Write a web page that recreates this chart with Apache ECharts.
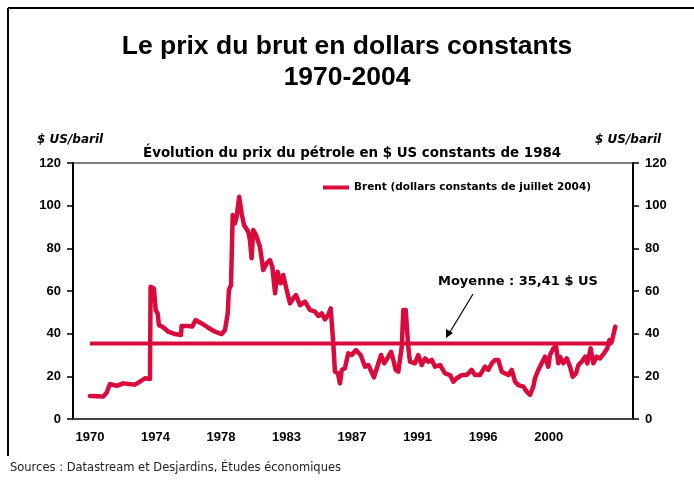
<!DOCTYPE html>
<html>
<head>
<meta charset="utf-8">
<title>Le prix du brut en dollars constants</title>
<script src="https://cdn.jsdelivr.net/npm/echarts@6/dist/echarts.min.js"></script>
<style>
  html, body { margin: 0; padding: 0; background: #fff; }
  #chart { width: 694px; height: 483px; }
</style>
</head>
<body>
<div id="chart"></div>
<script>
// Brent, $ US constants, x = année décimale
const brentX = [
  1970.00, 1970.88, 1971.10, 1971.32, 1971.77, 1972.20, 1972.98, 1973.31, 1973.64, 1973.97,
  1974.01, 1974.23, 1974.35, 1974.48, 1974.56, 1974.85, 1975.18, 1975.62, 1976.02, 1976.06,
  1976.50, 1976.77, 1976.99, 1977.39, 1977.82, 1978.27, 1978.71, 1978.93, 1979.11, 1979.19,
  1979.33, 1979.44, 1979.59, 1979.70, 1979.87, 1980.03, 1980.19, 1980.47, 1980.58, 1980.69,
  1980.80, 1980.98, 1981.24, 1981.46, 1981.69, 1981.90, 1982.06, 1982.24, 1982.41, 1982.61,
  1982.78, 1983.01, 1983.23, 1983.45, 1983.62, 1983.89, 1984.22, 1984.55, 1984.88, 1985.10,
  1985.32, 1985.54, 1985.76, 1985.92, 1986.09, 1986.20, 1986.40, 1986.53, 1986.65, 1986.86,
  1987.08, 1987.31, 1987.59, 1987.90, 1988.19, 1988.41, 1988.78, 1989.07, 1989.25, 1989.46,
  1989.73, 1989.91, 1990.06, 1990.22, 1990.39, 1990.62, 1990.72, 1990.88, 1991.05, 1991.16,
  1991.49, 1991.71, 1991.94, 1992.16, 1992.37, 1992.60, 1992.82, 1993.15, 1993.48, 1993.81,
  1994.03, 1994.25, 1994.58, 1994.91, 1995.24, 1995.46, 1995.79, 1996.12, 1996.34, 1996.57,
  1996.79, 1997.00, 1997.23, 1997.34, 1997.67, 1997.89, 1998.11, 1998.33, 1998.66, 1998.88,
  1999.10, 1999.32, 1999.43, 1999.65, 1999.87, 2000.09, 2000.31, 2000.42, 2000.64, 2000.82,
  2000.97, 2001.08, 2001.30, 2001.53, 2001.75, 2001.92, 2002.14, 2002.30, 2002.52, 2002.74,
  2002.89, 2003.11, 2003.29, 2003.51, 2003.73, 2003.99, 2004.21, 2004.35, 2004.50, 2004.61,
  2004.74
];
const brentY = [
  10.8, 10.5, 12.3, 16.4, 15.5, 16.7, 16.1, 17.5, 19.1, 18.8,
  62.0, 61.2, 51.0, 49.5, 44.0, 43.0, 40.9, 39.8, 39.4, 43.6,
  43.6, 43.4, 46.4, 44.8, 42.8, 40.9, 39.8, 41.7, 49.5, 60.5,
  62.8, 95.6, 91.7, 94.8, 104.2, 96.4, 90.9, 87.8, 83.9, 75.3,
  88.6, 86.3, 80.8, 69.8, 73.0, 74.5, 71.4, 58.9, 69.0, 63.6,
  67.5, 60.5, 54.2, 56.6, 58.1, 53.4, 55.0, 51.1, 50.3, 48.3,
  49.5, 46.7, 48.8, 51.9, 35.5, 22.2, 21.4, 16.7, 23.0, 23.8,
  30.8, 30.0, 32.3, 30.0, 24.5, 25.3, 19.5, 26.0, 30.0, 26.1,
  29.2, 31.5, 27.7, 23.0, 22.2, 33.9, 51.1, 51.1, 33.9, 26.9,
  26.1, 30.0, 25.3, 28.4, 26.9, 27.7, 24.5, 25.3, 21.4, 20.6,
  17.5, 19.1, 20.6, 20.6, 23.0, 20.6, 20.6, 24.5, 23.0, 26.1,
  27.7, 27.7, 22.2, 21.4, 20.6, 23.0, 17.5, 15.9, 15.2, 12.8,
  11.3, 15.2, 19.1, 23.0, 26.1, 29.2, 24.5, 30.0, 33.1, 34.2,
  26.1, 29.2, 26.1, 28.4, 24.5, 19.8, 21.4, 25.3, 26.9, 29.2,
  26.1, 33.1, 26.1, 29.2, 28.4, 30.8, 33.1, 37.0, 36.2, 39.4,
  43.3
];
const moyenne = 35.41;
const moyenneX = [1970.00, 2004.55];

// étiquettes de l'axe horizontal (une tous les 52 mois)
const tickYears = [1970, 1974.333, 1978.667, 1983, 1987.333, 1991.667, 1996, 2000.333];
const tickLabels = ['1970', '1974', '1978', '1983', '1987', '1991', '1996', '2000'];

const FONT = '"Liberation Sans", Arial, Helvetica, sans-serif';
const WIDE = '"DejaVu Sans", Verdana, sans-serif';
const RED = '#DA0A3C';

const chart = echarts.init(document.getElementById('chart'), null, { renderer: 'canvas' });

const yAxisBase = {
  type: 'value',
  min: 0,
  max: 120,
  interval: 20,
  splitLine: { show: false },
  axisLine: { show: true, lineStyle: { color: '#000', width: 2 } },
  axisTick: { show: true, length: 6, lineStyle: { color: '#000', width: 1.5 } },
  axisLabel: { color: '#000', fontFamily: FONT, fontWeight: 'bold', fontSize: 13, margin: 12 }
};

const option = {
  animation: false,
  backgroundColor: '#fff',
  textStyle: { fontFamily: FONT },
  grid: {
    left: 73, right: 61, top: 163, bottom: 64,
    show: true, borderColor: '#555', borderWidth: 1.5, backgroundColor: 'transparent'
  },
  legend: {
    data: ['Brent (dollars constants de juillet 2004)'],
    left: 323,
    top: 182,
    padding: 0,
    icon: 'rect',
    itemWidth: 26,
    itemHeight: 4,
    itemGap: 8,
    textStyle: { color: '#000', fontFamily: WIDE, fontWeight: 'bold', fontSize: 10.5 }
  },
  xAxis: {
    type: 'value',
    min: 1968.88,
    max: 2005.91,
    splitLine: { show: false },
    axisLine: { show: true, lineStyle: { color: '#444', width: 2 } },
    axisTick: { show: false },
    axisLabel: {
      color: '#000', fontFamily: FONT, fontWeight: 'bold', fontSize: 13, margin: 12,
      customValues: tickYears,
      formatter: function (value) {
        const i = tickYears.findIndex(v => Math.abs(v - value) < 0.01);
        return i >= 0 ? tickLabels[i] : '';
      }
    }
  },
  yAxis: [
    Object.assign({}, yAxisBase, { position: 'left' }),
    Object.assign({}, yAxisBase, { position: 'right' })
  ],
  series: [
    {
      name: 'Brent (dollars constants de juillet 2004)',
      type: 'line',
      showSymbol: false,
      symbol: 'none',
      lineStyle: { color: RED, width: 4.5, join: 'round', cap: 'round' },
      itemStyle: { color: RED },
      data: brentX.map((x, i) => [x, brentY[i]]),
      z: 3
    },
    {
      name: 'Moyenne',
      type: 'line',
      showSymbol: false,
      symbol: 'none',
      lineStyle: { color: RED, width: 4 },
      itemStyle: { color: RED },
      data: moyenneX.map(x => [x, moyenne]),
      z: 2
    }
  ],
  graphic: [
    // cadre
    { type: 'line', shape: { x1: 8, y1: 8, x2: 694, y2: 8 }, style: { stroke: '#000', lineWidth: 2 } },
    { type: 'line', shape: { x1: 8, y1: 8, x2: 8, y2: 456 }, style: { stroke: '#000', lineWidth: 2 } },
    {
      type: 'text', left: 'center', top: 33,
      style: { text: 'Le prix du brut en dollars constants', font: 'bold 26.5px ' + FONT, fill: '#000' }
    },
    {
      type: 'text', left: 'center', top: 64,
      style: { text: '1970-2004', font: 'bold 26.5px ' + FONT, fill: '#000' }
    },
    {
      type: 'text', left: 37, top: 134,
      style: { text: '$ US/baril', font: 'italic bold 12px ' + WIDE, fill: '#000' }
    },
    {
      type: 'text', left: 595, top: 134,
      style: { text: '$ US/baril', font: 'italic bold 12px ' + WIDE, fill: '#000' }
    },
    {
      type: 'text', left: 143, top: 147,
      style: { text: 'Évolution du prix du pétrole en $ US constants de 1984', font: 'bold 13.4px ' + WIDE, fill: '#000' }
    },
    {
      type: 'text', left: 438, top: 275,
      style: { text: 'Moyenne : 35,41 $ US', font: 'bold 13px ' + WIDE, fill: '#000' }
    },
    { type: 'line', shape: { x1: 473, y1: 294, x2: 450, y2: 332 }, style: { stroke: '#000', lineWidth: 1.2 } },
    { type: 'polygon', shape: { points: [[446, 338], [446, 329], [453, 333]] }, style: { fill: '#000' } },
    {
      type: 'text', left: 10, top: 462,
      style: { text: 'Sources : Datastream et Desjardins, Études économiques', font: '11.5px ' + WIDE, fill: '#222' }
    }
  ]
};

chart.setOption(option);
window.addEventListener('resize', () => chart.resize());
</script>
</body>
</html>
